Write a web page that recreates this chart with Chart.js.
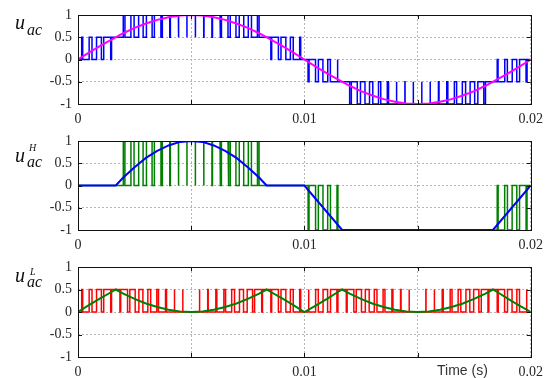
<!DOCTYPE html>
<html>
<head>
<meta charset="utf-8">
<script src="https://cdn.jsdelivr.net/npm/chart.js@4.4.1/dist/chart.umd.min.js"></script>
<style>
body { margin:0; background:#fff; width:550px; height:378px; overflow:hidden; position:relative; font-family:'Liberation Serif', 'Times New Roman', serif; }
canvas { position:absolute; left:0; }
.lab { position:absolute; left:15px; font-style:italic; font-size:20px; line-height:1; color:#111; white-space:nowrap; }
.lab .sub { font-size:16px; position:relative; margin-left:2px; }
.lab .sup { font-size:10px; position:absolute; }
.time { position:absolute; left:437px; top:363px; font-family:'Liberation Sans', Arial, sans-serif; font-size:14px; line-height:1; color:#333; }
</style>
</head>
<body>
<canvas id="acChart" width="550" height="126" style="top:0px"></canvas>
<canvas id="highChart" width="550" height="126" style="top:126px"></canvas>
<canvas id="lowChart" width="550" height="126" style="top:252px"></canvas>

<div class="lab" style="top:11.5px">u<span class="sub" style="top:6.7px">ac</span></div>
<div class="lab" style="top:145px">u<span class="sub" style="top:5px">ac</span><span class="sup" style="left:14px;top:-2.5px">H</span></div>
<div class="lab" style="top:265px">u<span class="sub" style="top:5px">ac</span><span class="sup" style="left:15px;top:2px">L</span></div>
<div class="time">Time (s)</div>

<script>
const timeTicks = [0, 0.01, 0.02];
const valueTicks = [-1, -0.5, 0, 0.5, 1];
const carrierPeriod = 0.00037037;

// mean level of each carrier period
const acLevels = [0.06, 0.17, 0.29, 0.40, 0.50, 0.60, 0.69, 0.77, 0.84, 0.89, 0.94, 0.97, 0.99, 1.00,
  0.99, 0.97, 0.94, 0.89, 0.84, 0.77, 0.69, 0.60, 0.50, 0.40, 0.29, 0.17, 0.06,
  -0.06, -0.17, -0.29, -0.40, -0.50, -0.60, -0.69, -0.77, -0.84, -0.89, -0.94, -0.97, -0.99, -1.00,
  -0.99, -0.97, -0.94, -0.89, -0.84, -0.77, -0.69, -0.60, -0.50, -0.40, -0.29, -0.17, -0.06];
const highLevels = [0, 0, 0, 0, 0, 0.19, 0.37, 0.53, 0.67, 0.79, 0.88, 0.95, 0.99, 1.00,
  0.99, 0.95, 0.88, 0.79, 0.67, 0.53, 0.37, 0.19, 0, 0, 0, 0, 0,
  -0.11, -0.33, -0.56, -0.78, -1, -1, -1, -1, -1, -1, -1, -1, -1, -1,
  -1, -1, -1, -1, -1, -1, -1, -1, -1, -0.78, -0.56, -0.33, -0.11];
const lowLevels = [0.06, 0.17, 0.29, 0.40, 0.50, 0.41, 0.32, 0.24, 0.17, 0.10, 0.06, 0.03, 0.01, 0.00,
  0.01, 0.03, 0.06, 0.10, 0.17, 0.24, 0.32, 0.41, 0.50, 0.40, 0.29, 0.17, 0.06,
  0.05, 0.16, 0.27, 0.38, 0.50, 0.40, 0.31, 0.23, 0.16, 0.11, 0.06, 0.03, 0.01, 0.00,
  0.01, 0.03, 0.06, 0.11, 0.16, 0.23, 0.31, 0.40, 0.50, 0.38, 0.27, 0.16, 0.05];

// reference curves
const sineTime = [0, 0.0005, 0.001, 0.0015, 0.002, 0.0025, 0.003, 0.0035, 0.004, 0.0045, 0.005,
  0.0055, 0.006, 0.0065, 0.007, 0.0075, 0.008, 0.0085, 0.009, 0.0095, 0.01,
  0.0105, 0.011, 0.0115, 0.012, 0.0125, 0.013, 0.0135, 0.014, 0.0145, 0.015,
  0.0155, 0.016, 0.0165, 0.017, 0.0175, 0.018, 0.0185, 0.019, 0.0195, 0.02];
const sineRef = [0, 0.16, 0.31, 0.45, 0.59, 0.71, 0.81, 0.89, 0.95, 0.99, 1,
  0.99, 0.95, 0.89, 0.81, 0.71, 0.59, 0.45, 0.31, 0.16, 0,
  -0.16, -0.31, -0.45, -0.59, -0.71, -0.81, -0.89, -0.95, -0.99, -1,
  -0.99, -0.95, -0.89, -0.81, -0.71, -0.59, -0.45, -0.31, -0.16, 0];
const highRefTime = [0, 0.00167, 0.002, 0.0025, 0.003, 0.0035, 0.004, 0.0045, 0.005, 0.0055,
  0.006, 0.0065, 0.007, 0.0075, 0.008, 0.00833, 0.01, 0.01167, 0.01833, 0.02];
const highRef = [0, 0, 0.18, 0.41, 0.62, 0.78, 0.90, 0.98, 1, 0.98,
  0.90, 0.78, 0.62, 0.41, 0.18, 0, 0, -1, -1, 0];
const lowRefTime = [0, 0.0005, 0.001, 0.0015, 0.00167, 0.002, 0.0025, 0.003, 0.0035, 0.004, 0.0045,
  0.005, 0.0055, 0.006, 0.0065, 0.007, 0.0075, 0.008, 0.00833, 0.0085, 0.009, 0.0095,
  0.01, 0.0105, 0.011, 0.0115, 0.01167, 0.012, 0.0125, 0.013, 0.0135, 0.014, 0.0145,
  0.015, 0.0155, 0.016, 0.0165, 0.017, 0.0175, 0.018, 0.01833, 0.0185, 0.019, 0.0195, 0.02];
const lowRef = [0, 0.16, 0.31, 0.45, 0.5, 0.41, 0.29, 0.19, 0.11, 0.05, 0.01,
  0, 0.01, 0.05, 0.11, 0.19, 0.29, 0.41, 0.5, 0.45, 0.31, 0.16,
  0, 0.14, 0.29, 0.45, 0.5, 0.41, 0.29, 0.19, 0.11, 0.05, 0.01,
  0, 0.01, 0.05, 0.11, 0.19, 0.29, 0.41, 0.5, 0.45, 0.29, 0.14, 0];

// turn per-period mean levels into a centred pulse train between two levels
function pwmPoints(levels, step) {
  const pts = [];
  for (let k = 0; k < levels.length; k++) {
    const v = levels[k];
    const t0 = k * carrierPeriod;
    let base, active, w;
    if (v >= 0) {
      base = Math.floor(v / step + 1e-9) * step;
      active = base + step;
      w = (v - base) / step;
    } else {
      active = Math.floor(v / step + 1e-9) * step;
      base = active + step;
      w = (base - v) / step;
    }
    if (w > 0.999) { base = active; w = 0; }
    pts.push({x: t0, y: base});
    if (w > 0.001) {
      const a = t0 + carrierPeriod * (1 - w) / 2;
      const b = t0 + carrierPeriod * (1 + w) / 2;
      pts.push({x: a, y: base}, {x: a, y: active}, {x: b, y: active}, {x: b, y: base});
    }
    pts.push({x: t0 + carrierPeriod, y: base});
  }
  return pts;
}

function toPoints(xs, ys) {
  return xs.map((x, i) => ({x: x, y: ys[i]}));
}

const boxPlugin = {
  id: 'box',
  afterDraw(chart) {
    const {ctx, chartArea: a, scales} = chart;
    ctx.save();
    ctx.strokeStyle = '#111';
    ctx.lineWidth = 1;
    ctx.beginPath();
    scales.x.ticks.forEach(t => {
      const px = Math.round(scales.x.getPixelForValue(t.value)) + 0.5;
      ctx.moveTo(px, a.bottom); ctx.lineTo(px, a.bottom - 4);
      ctx.moveTo(px, a.top); ctx.lineTo(px, a.top + 4);
    });
    scales.y.ticks.forEach(t => {
      const py = Math.round(scales.y.getPixelForValue(t.value)) + 0.5;
      ctx.moveTo(a.left, py); ctx.lineTo(a.left + 4, py);
      ctx.moveTo(a.right, py); ctx.lineTo(a.right - 4, py);
    });
    ctx.stroke();
    ctx.strokeRect(Math.round(a.left) + 0.5, Math.round(a.top) + 0.5,
      Math.round(a.right - a.left), Math.round(a.bottom - a.top));
    ctx.restore();
  }
};

const tickFont = {family: "'Liberation Serif', 'Times New Roman', serif", size: 14};

function generateChart(id, pwm, ref, pwmColor, refColor, axisHeight) {
  const ctx = document.getElementById(id).getContext('2d');
  return new Chart(ctx, {
    type: 'line',
    data: {
      datasets: [
        {data: ref, borderColor: refColor, borderWidth: 2, pointRadius: 0, order: 0},
        {data: pwm, borderColor: pwmColor, borderWidth: 1.5, pointRadius: 0, order: 1}
      ]
    },
    options: {
      responsive: false,
      animation: false,
      parsing: false,
      layout: {padding: {top: 15, right: 18, left: 0, bottom: 0}},
      plugins: {legend: {display: false}, tooltip: {enabled: false}},
      scales: {
        x: {
          type: 'linear', min: 0, max: 0.02,
          afterFit: s => { s.height = axisHeight; },
          grid: {color: '#b4b4b4', drawTicks: false},
          border: {display: false, dash: [2, 2]},
          ticks: {
            stepSize: 0.005, autoSkip: false, maxRotation: 0, padding: 7,
            color: '#262626', font: tickFont,
            callback: v => {
              const r = Math.round(v * 1000) / 1000;
              return timeTicks.includes(r) ? String(r) : '';
            }
          }
        },
        y: {
          min: -1, max: 1,
          afterFit: s => { s.width = 78; },
          grid: {color: '#b4b4b4', drawTicks: false},
          border: {display: false, dash: [2, 2]},
          ticks: {
            stepSize: 0.5, padding: 6, color: '#262626', font: tickFont,
            callback: v => valueTicks.includes(v) ? String(v) : ''
          }
        }
      }
    },
    plugins: [boxPlugin]
  });
}

generateChart('acChart', pwmPoints(acLevels, 0.5), toPoints(sineTime, sineRef), '#0000ff', '#ff00ff', 22);
generateChart('highChart', pwmPoints(highLevels, 1), toPoints(highRefTime, highRef), '#008000', '#0000ff', 22);
generateChart('lowChart', pwmPoints(lowLevels, 0.5), toPoints(lowRefTime, lowRef), '#ff0000', '#008000', 21);
</script>
</body>
</html>
